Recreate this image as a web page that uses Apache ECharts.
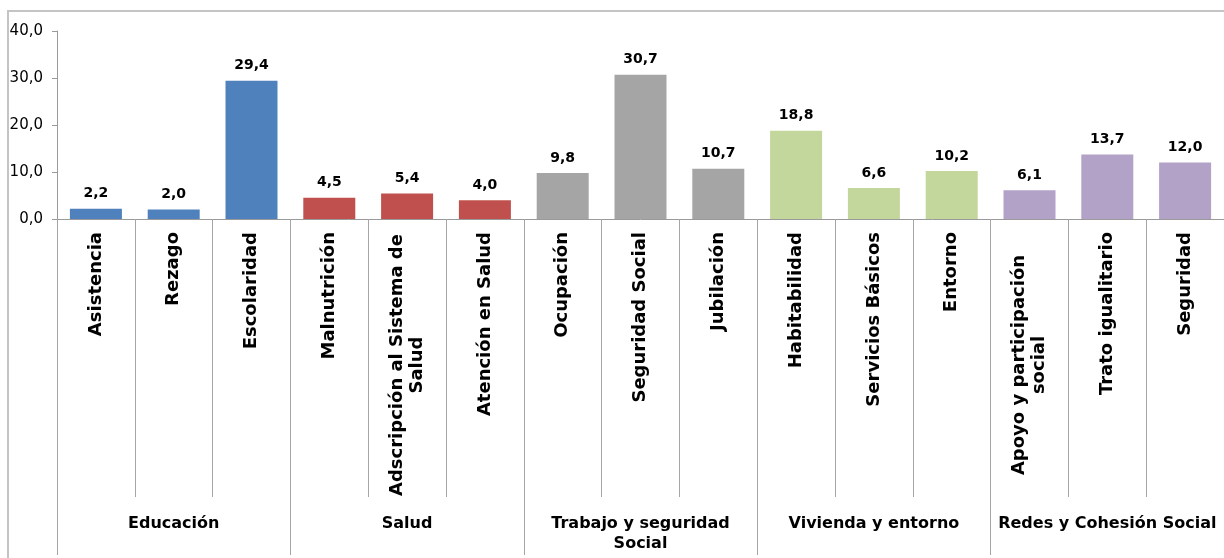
<!DOCTYPE html>
<html>
<head>
<meta charset="utf-8">
<script src="https://cdn.jsdelivr.net/npm/echarts@6/dist/echarts.min.js"></script>
<style>
  html, body { margin: 0; padding: 0; background: #fff; }
  #chart { width: 1224px; height: 558px; }
</style>
</head>
<body>
<div id="chart"></div>
<script>
const categories = [
  "Asistencia", "Rezago", "Escolaridad",
  "Malnutrición", "Adscripción al Sistema de\nSalud", "Atención en Salud",
  "Ocupación", "Seguridad Social", "Jubilación",
  "Habitabilidad", "Servicios Básicos", "Entorno",
  "Apoyo y participación\nsocial", "Trato igualitario", "Seguridad"
];
const values = [2.2, 2.0, 29.4, 4.5, 5.4, 4.0, 9.8, 30.7, 10.7, 18.8, 6.6, 10.2, 6.1, 13.7, 12.0];
const groupOf = [0, 0, 0, 1, 1, 1, 2, 2, 2, 3, 3, 3, 4, 4, 4];
const groups = ["Educación", "Salud", "Trabajo y seguridad\nSocial", "Vivienda y entorno", "Redes y Cohesión Social"];
const groupColors = ["#4f81bd", "#c0504d", "#a5a5a5", "#c3d69b", "#b2a2c7"];
const yTicks = { min: 0, max: 40, interval: 10 };

const font = "DejaVu Sans";
const comma = v => v.toFixed(1).replace(".", ",");

let myChart = echarts.init(document.getElementById("chart"));
myChart.setOption({
  animation: false,
  graphic: [{
    type: "rect",
    shape: { x: 8, y: 11, width: 1240, height: 570 },
    style: { fill: null, stroke: "#c4c4c4", lineWidth: 2 },
    silent: true
  }],
  grid: { left: 57, top: 31, width: 1173, height: 188 },
  xAxis: [
    {
      type: "category",
      data: categories,
      axisLine: { show: true, lineStyle: { color: "#9a9a9a", width: 1 } },
      axisTick: { show: true, interval: 0, length: 278, lineStyle: { color: "#a6a6a6" } },
      axisLabel: {
        interval: 0,
        rotate: 90,
        margin: 13,
        fontFamily: font,
        fontWeight: "bold",
        fontSize: 18,
        lineHeight: 20,
        color: "#000",
        formatter: v => v.indexOf("\n") >= 0
          ? v.split("\n").map(s => "{c|" + s + "}").join("\n")
          : v,
        rich: {
          c: { width: 266, align: "center", fontFamily: font, fontWeight: "bold", fontSize: 18, color: "#000", lineHeight: 20 }
        }
      }
    },
    {
      type: "category",
      data: groups,
      position: "bottom",
      axisLine: { show: false },
      axisTick: { show: true, interval: 0, length: 336, lineStyle: { color: "#a6a6a6" } },
      axisLabel: {
        interval: 0,
        margin: 295,
        fontFamily: font,
        fontWeight: "bold",
        fontSize: 16,
        lineHeight: 20,
        color: "#000"
      }
    }
  ],
  yAxis: {
    type: "value",
    min: yTicks.min,
    max: yTicks.max,
    interval: yTicks.interval,
    axisLine: { show: true, lineStyle: { color: "#9a9a9a" } },
    axisTick: { show: true, length: 5, lineStyle: { color: "#9a9a9a" } },
    splitLine: { show: false },
    axisLabel: {
      margin: 14,
      fontFamily: font,
      fontSize: 15,
      color: "#000",
      formatter: v => comma(v)
    }
  },
  series: [
    {
      type: "bar",
      barWidth: 52,
      data: values.map((v, i) => ({
        value: v,
        itemStyle: { color: groupColors[groupOf[i]] }
      })),
      label: {
        show: true,
        position: "top",
        distance: 8,
        fontFamily: font,
        fontWeight: "bold",
        fontSize: 14,
        color: "#000",
        formatter: p => comma(p.value)
      }
    }
  ]
});
</script>
</body>
</html>
